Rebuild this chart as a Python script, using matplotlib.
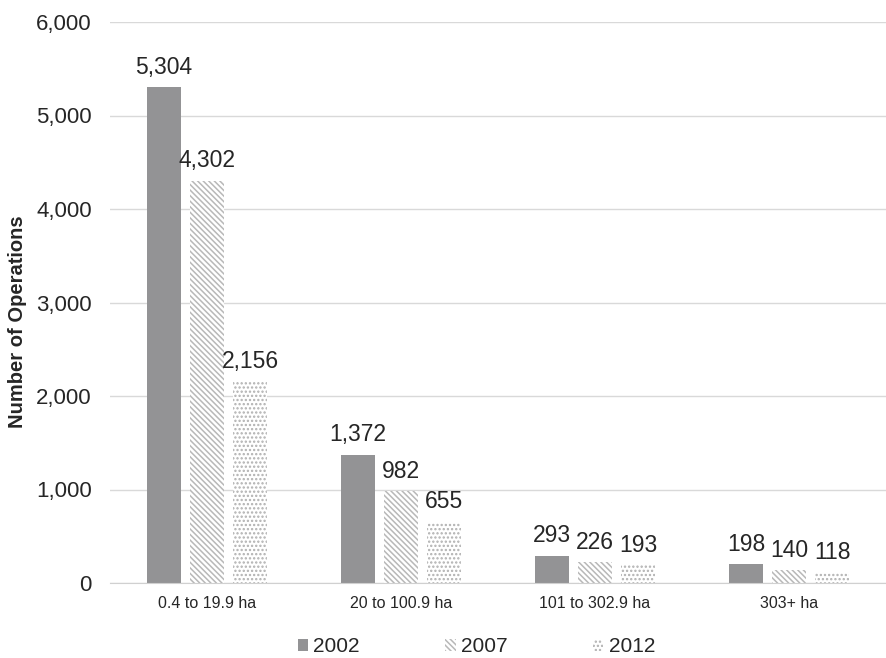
import matplotlib
matplotlib.use("Agg")
import matplotlib.pyplot as plt
import numpy as np

plt.rcParams['font.family'] = ['Liberation Sans', 'DejaVu Sans']
plt.rcParams['hatch.linewidth'] = 1.1

categories = ["0.4 to 19.9 ha", "20 to 100.9 ha", "101 to 302.9 ha", "303+ ha"]
years = ["2002", "2007", "2012"]
v2002 = [5304, 1372, 293, 198]
v2007 = [4302, 982, 226, 140]
v2012 = [2156, 655, 193, 118]
series = [v2002, v2007, v2012]

fig = plt.figure(figsize=(8.86, 6.58), dpi=100)
ax = fig.add_axes([110/886, (658-583)/658, 776/886, (583-22)/658])

x = np.arange(len(categories))
w = 0.176
step = 0.222
styles = [
    dict(color="#939395", edgecolor="#939395", hatch=None),
    dict(color="white", edgecolor="#b8b8b8", hatch="\\\\\\\\\\\\"),
    dict(color="white", edgecolor="#b0b0b0", hatch="...."),
]
for i, (yr, vals, st) in enumerate(zip(years, series, styles)):
    pos = x + (i - 1) * step
    bars = ax.bar(pos, vals, w, label=yr, color=st["color"], edgecolor=st["edgecolor"],
                  hatch=st["hatch"], linewidth=0, zorder=3)
    for b, v in zip(bars, vals):
        ax.annotate(f"{v:,}", (b.get_x() + b.get_width() / 2, v), xytext=(0, 6),
                    textcoords="offset points", ha="center", va="bottom",
                    fontsize=16.5, color="#262626", zorder=4)

ax.set_xlim(-0.5, 3.5)
ax.set_ylim(0, 6000)
ax.set_yticks(np.arange(0, 6001, 1000))
ax.set_yticklabels([f"{t:,}" for t in range(0, 6001, 1000)], fontsize=16, color="#262626")
ax.set_xticks(x)
ax.set_xticklabels(categories, fontsize=11.5, color="#262626")
ax.tick_params(axis="both", length=0)
ax.tick_params(axis="y", pad=13)
ax.tick_params(axis="x", pad=9)
ax.grid(axis="y", color="#d9d9d9", linewidth=1, zorder=0)
for s in ["top", "right", "left"]:
    ax.spines[s].set_visible(False)
ax.spines["bottom"].set_color("#d0d0d0")
ax.spines["bottom"].set_zorder(5)
ax.set_ylabel("Number of Operations", fontsize=14.5, fontweight="bold", color="#262626")
ax.yaxis.set_label_coords(-0.107, 0.465)

leg = ax.legend(loc="center", bbox_to_anchor=(0.472, -0.114), ncol=3, frameon=False,
                fontsize=15, handlelength=0.5, handleheight=0.5, handletextpad=0.25,
                columnspacing=4.1)
for t in leg.get_texts():
    t.set_color("#262626")

fig.savefig("out.png", dpi=100)
